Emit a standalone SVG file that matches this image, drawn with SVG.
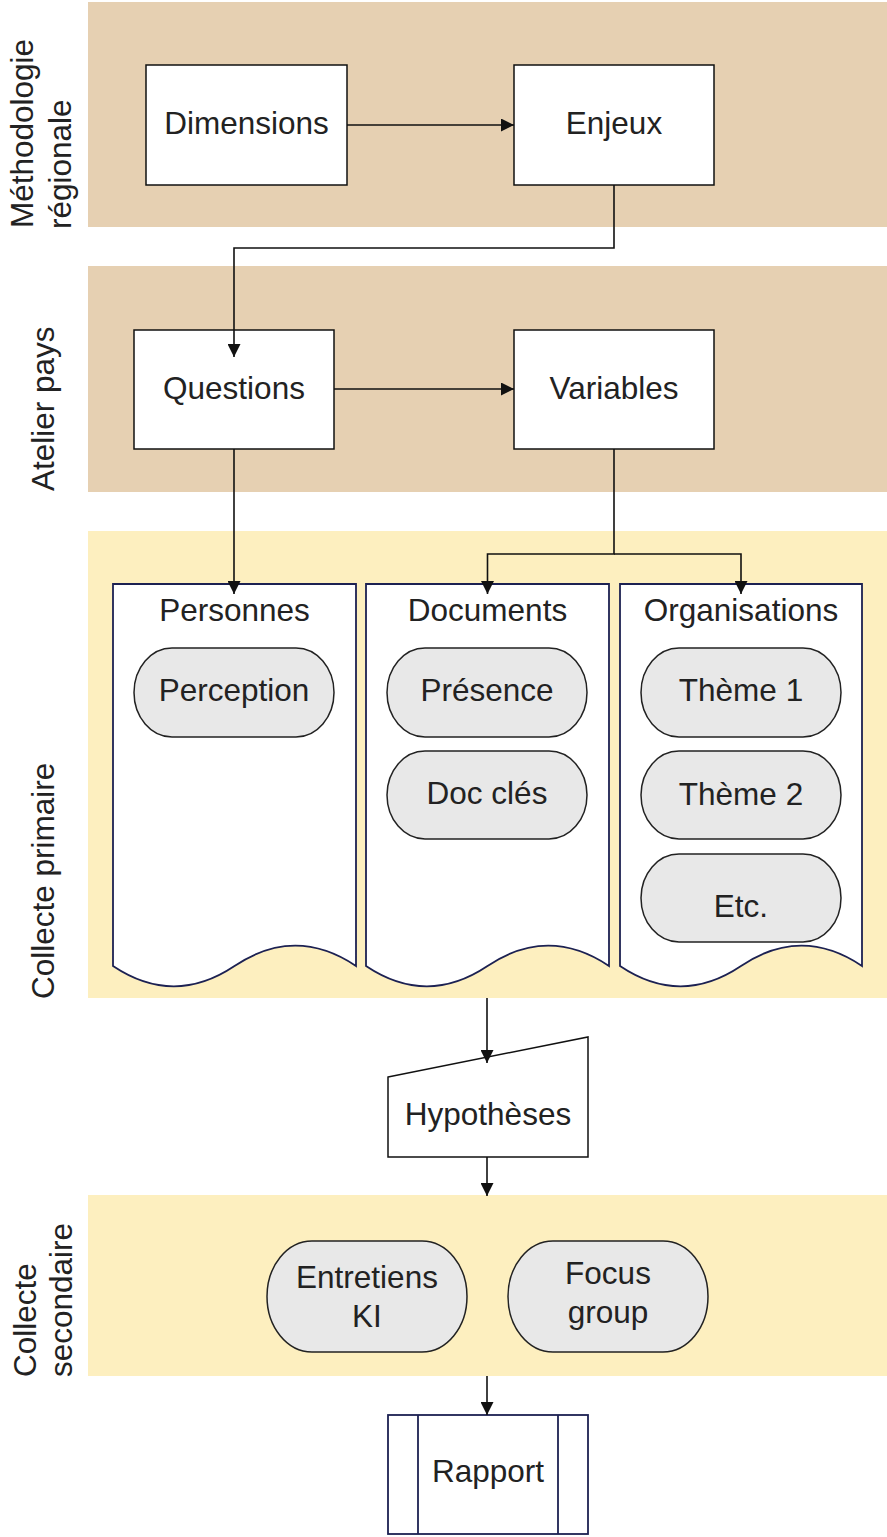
<svg xmlns="http://www.w3.org/2000/svg" width="887" height="1537" viewBox="0 0 887 1537">
<style>
text{font-family:"Liberation Sans",Arial,sans-serif;font-size:31.5px;fill:#222}
.c{text-anchor:middle}
.lbl{text-anchor:start}
.box{fill:#fff;stroke:#111;stroke-width:1.5}
.doc{fill:#fff;stroke:#1c2152;stroke-width:1.8}
.pill{fill:#e8e8e8;stroke:#222;stroke-width:1.5}
.tan{fill:#e6d0b2}
.yel{fill:#fdefbf}
.conn{fill:none;stroke:#111;stroke-width:1.6}
</style>
<defs>
<marker id="ah" markerUnits="userSpaceOnUse" markerWidth="13" markerHeight="13" refX="13" refY="6.5" orient="auto">
<path d="M0,0 L13,6.5 L0,13 z" fill="#111"/>
</marker>
</defs>
<g id="lanes">
<rect class="tan" x="88" y="2" width="799" height="225"/>
<rect class="tan" x="88" y="266" width="799" height="226"/>
<rect class="yel" x="88" y="531" width="799" height="467"/>
<rect class="yel" x="88" y="1195" width="799" height="181"/>
<text class="lbl" transform="translate(33,228) rotate(-90)">Méthodologie</text>
<text class="lbl" transform="translate(71,229) rotate(-90)">régionale</text>
<text class="lbl" transform="translate(54,491) rotate(-90)">Atelier pays</text>
<text class="lbl" transform="translate(54,999) rotate(-90)">Collecte primaire</text>
<text class="lbl" transform="translate(36,1377) rotate(-90)">Collecte</text>
<text class="lbl" transform="translate(72,1377) rotate(-90)">secondaire</text>
</g>
<g id="dimensions"><rect class="box" x="146" y="65" width="201" height="120"/><text class="c" x="246.5" y="134">Dimensions</text></g>
<g id="enjeux"><rect class="box" x="514" y="65" width="200" height="120"/><text class="c" x="614" y="134">Enjeux</text></g>
<g id="questions"><rect class="box" x="134" y="330" width="200" height="119"/><text class="c" x="234" y="399">Questions</text></g>
<g id="variables"><rect class="box" x="514" y="330" width="200" height="119"/><text class="c" x="614" y="399">Variables</text></g>
<g id="personnes">
<path class="doc" d="M113,584 H356 V966 Q295.25,925.4 234.5,966 Q173.75,1006.6 113,966 Z"/>
<text class="c" x="234.5" y="621">Personnes</text>
</g>
<g id="documents">
<path class="doc" d="M366,584 H609 V966 Q548.25,925.4 487.5,966 Q426.75,1006.6 366,966 Z"/>
<text class="c" x="487.5" y="621">Documents</text>
</g>
<g id="organisations">
<path class="doc" d="M620,584 H862 V966 Q801.5,925.4 741,966 Q680.5,1006.6 620,966 Z"/>
<text class="c" x="741" y="621">Organisations</text>
</g>
<g id="perception"><rect class="pill" x="134" y="648" width="200" height="89" rx="38" ry="44.5"/><text class="c" x="234" y="701">Perception</text></g>
<g id="presence"><rect class="pill" x="387" y="648" width="200" height="89" rx="38" ry="44.5"/><text class="c" x="487" y="701">Présence</text></g>
<g id="docscles"><rect class="pill" x="387" y="751" width="200" height="88" rx="38" ry="44"/><text class="c" x="487" y="804">Doc clés</text></g>
<g id="theme1"><rect class="pill" x="641" y="648" width="200" height="89" rx="38" ry="44.5"/><text class="c" x="741" y="701">Thème 1</text></g>
<g id="theme2"><rect class="pill" x="641" y="751" width="200" height="88" rx="38" ry="44"/><text class="c" x="741" y="805">Thème 2</text></g>
<g id="etc"><rect class="pill" x="641" y="854" width="200" height="88" rx="38" ry="44"/><text class="c" x="741" y="917">Etc.</text></g>
<g id="hypotheses"><path class="box" d="M388,1077 L588,1037 V1157 H388 Z"/><text class="c" x="488" y="1125">Hypothèses</text></g>
<g id="entretiens"><rect class="pill" x="267" y="1241" width="200" height="111" rx="45" ry="55.5"/><text class="c" x="367" y="1288">Entretiens</text><text class="c" x="367" y="1327">KI</text></g>
<g id="focus"><rect class="pill" x="508" y="1241" width="200" height="111" rx="45" ry="55.5"/><text class="c" x="608" y="1284">Focus</text><text class="c" x="608" y="1323">group</text></g>
<g id="rapport"><rect class="doc" x="388" y="1415" width="200" height="119"/><line class="doc" x1="418" y1="1415" x2="418" y2="1534"/><line class="doc" x1="558" y1="1415" x2="558" y2="1534"/><text class="c" x="488" y="1482">Rapport</text></g>
<g id="connectors">
<path class="conn" d="M347,125 H514" marker-end="url(#ah)"/>
<path class="conn" d="M614,185 V248 H234 V357" marker-end="url(#ah)"/>
<path class="conn" d="M334,389 H514" marker-end="url(#ah)"/>
<path class="conn" d="M234,449 V594" marker-end="url(#ah)"/>
<path class="conn" d="M614,449 V554 H487.5 V594" marker-end="url(#ah)"/>
<path class="conn" d="M614,554 H741 V594" marker-end="url(#ah)"/>
<path class="conn" d="M487,998 V1063" marker-end="url(#ah)"/>
<path class="conn" d="M487,1157 V1196" marker-end="url(#ah)"/>
<path class="conn" d="M487,1376 V1415" marker-end="url(#ah)"/>
</g>
</svg>
